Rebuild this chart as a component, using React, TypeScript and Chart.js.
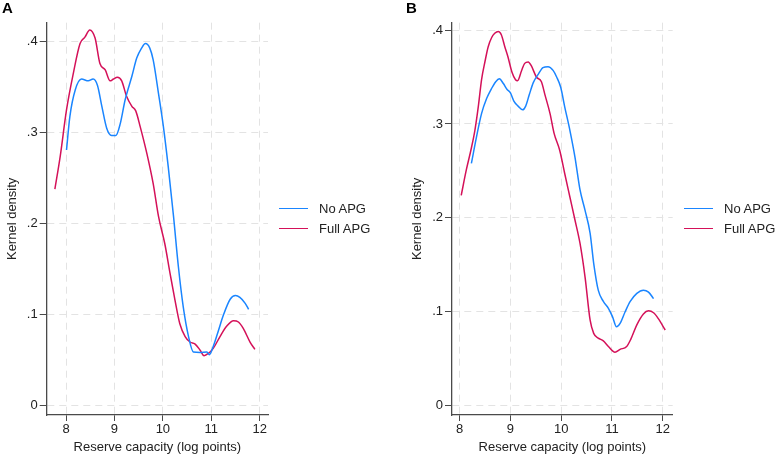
import React, { useEffect, useRef } from 'react';
import { Chart, registerables } from 'chart.js';

Chart.register(...registerables);

const FONT = '"Liberation Sans", Arial, sans-serif';

const seriesNames = ['No APG', 'Full APG'];
const seriesColors = ['#1A85FF', '#D41159'];
const xTickValues = [8, 9, 10, 11, 12];
const yTickValues = [0, 0.1, 0.2, 0.3, 0.4];
const yTickLabels = ['0', '.1', '.2', '.3', '.4'];
const xTitle = 'Reserve capacity (log points)';
const yTitle = 'Kernel density';

// Panel A
const aNoX = [8.01, 8.08, 8.19, 8.32, 8.46, 8.56, 8.65, 8.74, 8.84, 8.94, 9.03, 9.12, 9.22, 9.36, 9.46, 9.56, 9.64, 9.73, 9.8, 9.91, 10.01, 10.11, 10.22, 10.32, 10.42, 10.53, 10.63, 10.77, 10.91, 10.96, 11.04, 11.15, 11.25, 11.39, 11.5, 11.59, 11.7, 11.77];
const aNoY = [0.281, 0.318, 0.347, 0.359, 0.357, 0.359, 0.352, 0.329, 0.305, 0.297, 0.297, 0.31, 0.336, 0.362, 0.382, 0.393, 0.398, 0.393, 0.38, 0.343, 0.307, 0.263, 0.208, 0.153, 0.109, 0.076, 0.059, 0.0586, 0.059, 0.056, 0.065, 0.083, 0.0996, 0.117, 0.121, 0.119, 0.1125, 0.106];
const aFullX = [7.77, 7.88, 8.01, 8.15, 8.29, 8.39, 8.49, 8.6, 8.7, 8.81, 8.91, 8.98, 9.06, 9.15, 9.25, 9.36, 9.44, 9.53, 9.67, 9.8, 9.91, 10.04, 10.15, 10.25, 10.35, 10.46, 10.56, 10.66, 10.77, 10.85, 10.94, 11.04, 11.18, 11.32, 11.46, 11.56, 11.66, 11.8, 11.9];
const aFullY = [0.238, 0.274, 0.325, 0.365, 0.398, 0.405, 0.413, 0.404, 0.376, 0.369, 0.357, 0.359, 0.361, 0.357, 0.34, 0.329, 0.324, 0.307, 0.277, 0.244, 0.208, 0.178, 0.145, 0.116, 0.09, 0.076, 0.07, 0.068, 0.061, 0.055, 0.0575, 0.063, 0.076, 0.0875, 0.0934, 0.092, 0.085, 0.07, 0.062];

// Panel B
const bNoX = [8.23, 8.33, 8.43, 8.53, 8.63, 8.71, 8.78, 8.86, 8.93, 9.0, 9.07, 9.15, 9.24, 9.3, 9.37, 9.45, 9.55, 9.64, 9.74, 9.84, 9.91, 9.99, 10.07, 10.17, 10.27, 10.37, 10.47, 10.57, 10.64, 10.73, 10.83, 10.93, 11.01, 11.09, 11.16, 11.26, 11.36, 11.49, 11.62, 11.72, 11.82];
const bNoY = [0.258, 0.286, 0.311, 0.327, 0.338, 0.345, 0.348, 0.343, 0.337, 0.333, 0.324, 0.319, 0.315, 0.319, 0.331, 0.344, 0.353, 0.36, 0.361, 0.357, 0.35, 0.339, 0.318, 0.2935, 0.265, 0.23, 0.208, 0.1835, 0.1516, 0.123, 0.111, 0.1036, 0.0948, 0.084, 0.0877, 0.1, 0.111, 0.1196, 0.123, 0.121, 0.114];
const bFullX = [8.03, 8.13, 8.22, 8.3, 8.37, 8.43, 8.5, 8.56, 8.63, 8.69, 8.76, 8.82, 8.89, 8.95, 9.03, 9.1, 9.14, 9.22, 9.28, 9.35, 9.41, 9.51, 9.61, 9.68, 9.78, 9.86, 9.97, 10.07, 10.17, 10.27, 10.37, 10.47, 10.57, 10.64, 10.73, 10.83, 10.93, 11.06, 11.16, 11.29, 11.37, 11.49, 11.62, 11.72, 11.82, 11.91, 12.05];
const bFullY = [0.224, 0.251, 0.272, 0.2935, 0.32, 0.347, 0.367, 0.382, 0.392, 0.3965, 0.3985, 0.395, 0.382, 0.3716, 0.355, 0.347, 0.346, 0.357, 0.3645, 0.366, 0.362, 0.35, 0.345, 0.331, 0.311, 0.29, 0.272, 0.247, 0.2225, 0.198, 0.173, 0.137, 0.091, 0.077, 0.072, 0.069, 0.063, 0.057, 0.06, 0.063, 0.0706, 0.086, 0.0976, 0.101, 0.099, 0.093, 0.0806];

type PanelSpec = {
  label: string;
  left: number;
  width: number;
  xs: number[][];
  ys: number[][];
  xMin: number;
  xMax: number;
  yMin: number;
  yMax: number;
  padLeft: number;
  padRight: number;
  titlePad: number;
  legendLineX: number;
  legendTextX: number;
  labelX: number;
};

const panels: PanelSpec[] = [
  {
    label: 'A', left: 0, width: 390,
    xs: [aNoX, aFullX], ys: [aNoY, aFullY],
    xMin: 7.601, xMax: 12.171, yMin: -0.0102, yMax: 0.4209,
    padLeft: 0, padRight: 122, titlePad: 4.7,
    legendLineX: 279, legendTextX: 319, labelX: 2,
  },
  {
    label: 'B', left: 390, width: 387,
    xs: [bNoX, bFullX], ys: [bNoY, bFullY],
    xMin: 7.848, xMax: 12.197, yMin: -0.0099, yMax: 0.4078,
    padLeft: 15.3, padRight: 104.3, titlePad: 3.9,
    legendLineX: 684, legendTextX: 724, labelX: 406,
  },
];

const GRID = '#e3e3e3';
const AXIS = '#4a4a4a';
const TEXT = '#222222';

function Panel({ spec }: { spec: PanelSpec }) {
  const ref = useRef<HTMLCanvasElement | null>(null);
  useEffect(() => {
    if (!ref.current) return;
    const datasets = spec.xs.map((xs, i) => ({
      label: seriesNames[i],
      data: xs.map((x, j) => ({ x, y: spec.ys[i][j] })),
      borderColor: seriesColors[i],
      backgroundColor: seriesColors[i],
      borderWidth: 1.5,
      pointRadius: 0,
      cubicInterpolationMode: 'monotone' as const,
      fill: false,
    }));
    const chart = new Chart(ref.current, {
      type: 'line',
      data: { datasets },
      options: {
        animation: false,
        responsive: false,
        maintainAspectRatio: false,
        layout: { padding: { left: spec.padLeft, right: spec.padRight, top: 22.7, bottom: 0 } },
        plugins: { legend: { display: false }, tooltip: { enabled: false }, title: { display: false } },
        scales: {
          x: {
            type: 'linear',
            min: spec.xMin,
            max: spec.xMax,
            afterBuildTicks: (s: any) => { s.ticks = xTickValues.map((v) => ({ value: v })); },
            afterFit: (s: any) => { s.height = 41; },
            ticks: {
              font: { family: FONT, size: 13 },
              color: TEXT,
              padding: 1,
              maxRotation: 0,
              callback: (v: any) => String(v),
            },
            grid: { color: GRID, lineWidth: 1, tickLength: 6, tickColor: AXIS, tickWidth: 1 },
            border: { display: true, color: AXIS, width: 1.3, dash: [7, 5] },
            title: {
              display: true, text: xTitle, color: TEXT,
              font: { family: FONT, size: 13 }, padding: { top: 0, bottom: 1.2 },
            },
          },
          y: {
            type: 'linear',
            min: spec.yMin,
            max: spec.yMax,
            afterBuildTicks: (s: any) => { s.ticks = yTickValues.map((v) => ({ value: v })); },
            afterFit: (s: any) => { s.width = 46.7; },
            ticks: {
              font: { family: FONT, size: 13 },
              color: TEXT,
              padding: 2,
              callback: (v: any) => {
                const k = yTickValues.findIndex((t) => Math.abs(t - v) < 1e-9);
                return k >= 0 ? yTickLabels[k] : '';
              },
            },
            grid: { color: GRID, lineWidth: 1, tickLength: 7, tickColor: AXIS, tickWidth: 1 },
            border: { display: true, color: AXIS, width: 1.3, dash: [7, 5] },
            title: {
              display: true, text: yTitle, color: TEXT,
              font: { family: FONT, size: 13 }, padding: { top: spec.titlePad, bottom: 0 },
            },
          },
        },
      },
    });
    return () => chart.destroy();
  }, [spec]);

  return (
    <>
      <canvas
        ref={ref}
        width={spec.width}
        height={456}
        style={{ position: 'absolute', left: spec.left, top: 0, width: spec.width, height: 456 }}
      />
      <div style={{ position: 'absolute', left: spec.labelX, top: -1, font: `bold 15px ${FONT}`, color: '#000' }}>
        {spec.label}
      </div>
      {seriesNames.map((name, i) => (
        <React.Fragment key={name}>
          <div style={{
            position: 'absolute', left: spec.legendLineX, top: 207.6 + i * 20.5, width: 29, height: 0,
            borderTop: `1.5px solid ${seriesColors[i]}`,
          }} />
          <div style={{
            position: 'absolute', left: spec.legendTextX, top: 200.5 + i * 20.5,
            font: `13px ${FONT}`, color: TEXT, whiteSpace: 'nowrap', lineHeight: '16px',
          }}>{name}</div>
        </React.Fragment>
      ))}
    </>
  );
}

export default function App() {
  return (
    <div style={{ position: 'fixed', left: 0, top: 0, width: 777, height: 456, background: '#fff', overflow: 'hidden' }}>
      {panels.map((p) => <Panel key={p.label} spec={p} />)}
    </div>
  );
}
